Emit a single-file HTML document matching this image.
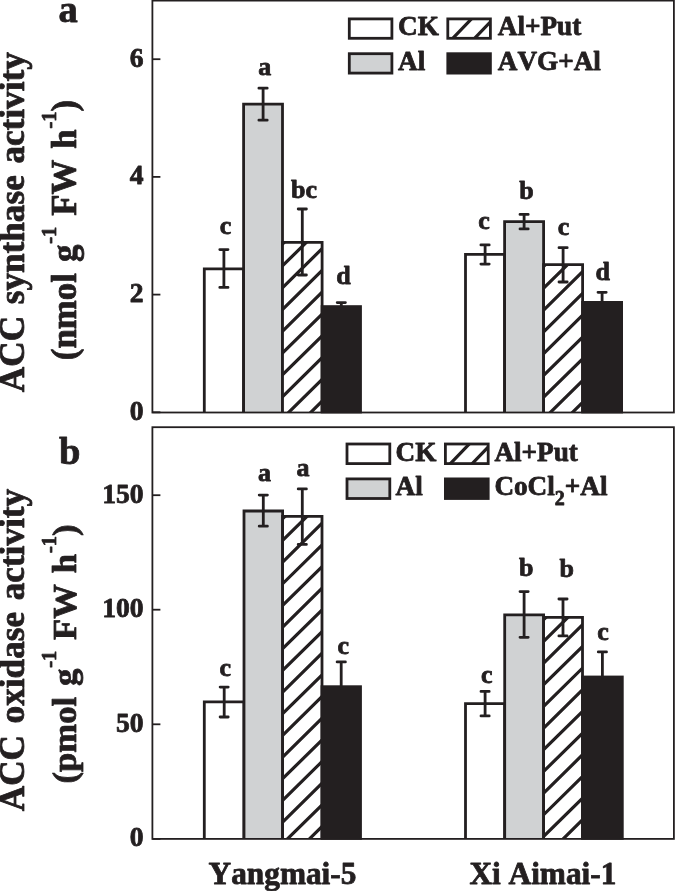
<!DOCTYPE html>
<html lang="en"><head><meta charset="utf-8"><title>ACC synthase and ACC oxidase activity</title>
<style>html,body{margin:0;padding:0;background:#fff;}body{width:675px;height:891px;overflow:hidden;}svg{display:block;}text{font-family:"Liberation Serif", "Times New Roman", Times, serif;font-weight:bold;fill:#231f20;font-kerning:none;stroke:#231f20;stroke-width:0.8px;stroke-linejoin:round;}</style></head><body>
<svg width="675" height="891" viewBox="0 0 675 891">
<rect width="675" height="891" fill="#fff"/>
<rect x="204.3" y="268.8" width="39.3" height="143.7" fill="#fff"/>
<path d="M204.3 412.5V268.8H243.6V412.5" fill="none" stroke="#231f20" stroke-width="2.8"/>
<path d="M223.9 249.6V287.4M219.8 249.6H228.0M219.8 287.4H228.0" stroke="#231f20" stroke-width="2.8" stroke-linecap="round" fill="none"/>
<text x="225.5" y="234.0" font-size="26.0" text-anchor="middle">c</text>
<rect x="243.6" y="104.1" width="38.9" height="308.4" fill="#d0d2d3"/>
<path d="M243.6 412.5V104.1H282.5V412.5" fill="none" stroke="#231f20" stroke-width="2.8"/>
<path d="M263.1 88.2V120.2M258.9 88.2H267.2M258.9 120.2H267.2" stroke="#231f20" stroke-width="2.8" stroke-linecap="round" fill="none"/>
<text x="264.8" y="74.6" font-size="26.0" text-anchor="middle">a</text>
<rect x="282.5" y="242.3" width="39.6" height="170.2" fill="#fff"/>
<clipPath id="c1"><rect x="282.5" y="242.3" width="39.6" height="170.2"/></clipPath>
<path clip-path="url(#c1)" d="M277.5 205.4L327.1 156.5M277.5 227.2L327.1 178.3M277.5 249.0L327.1 200.1M277.5 270.8L327.1 221.9M277.5 292.6L327.1 243.7M277.5 314.4L327.1 265.5M277.5 336.2L327.1 287.3M277.5 358.0L327.1 309.1M277.5 379.8L327.1 330.9M277.5 401.6L327.1 352.7M277.5 423.4L327.1 374.5M277.5 445.2L327.1 396.3M277.5 467.0L327.1 418.1M277.5 488.8L327.1 439.9M277.5 510.6L327.1 461.7" stroke="#231f20" stroke-width="3.2" fill="none"/>
<path d="M282.5 412.5V242.3H322.1V412.5" fill="none" stroke="#231f20" stroke-width="2.8"/>
<path d="M302.3 209.0V275.0M298.2 209.0H306.4M298.2 275.0H306.4" stroke="#231f20" stroke-width="2.8" stroke-linecap="round" fill="none"/>
<text x="304.0" y="197.6" font-size="26.0" text-anchor="middle">bc</text>
<rect x="320.7" y="305.2" width="41.2" height="108.2" fill="#231f20"/>
<path d="M341.3 302.6V306.6M337.2 302.6H345.4" stroke="#231f20" stroke-width="2.8" stroke-linecap="round" fill="none"/>
<text x="343.5" y="284.4" font-size="26.0" text-anchor="middle">d</text>
<rect x="465.5" y="254.4" width="39.1" height="158.1" fill="#fff"/>
<path d="M465.5 412.5V254.4H504.6V412.5" fill="none" stroke="#231f20" stroke-width="2.8"/>
<path d="M485.1 244.9V264.1M480.9 244.9H489.2M480.9 264.1H489.2" stroke="#231f20" stroke-width="2.8" stroke-linecap="round" fill="none"/>
<text x="484.1" y="228.9" font-size="26.0" text-anchor="middle">c</text>
<rect x="504.6" y="221.6" width="39.0" height="190.9" fill="#d0d2d3"/>
<path d="M504.6 412.5V221.6H543.6V412.5" fill="none" stroke="#231f20" stroke-width="2.8"/>
<path d="M524.1 214.4V228.9M520.0 214.4H528.2M520.0 228.9H528.2" stroke="#231f20" stroke-width="2.8" stroke-linecap="round" fill="none"/>
<text x="526.5" y="199.0" font-size="26.0" text-anchor="middle">b</text>
<rect x="543.6" y="264.7" width="39.0" height="147.8" fill="#fff"/>
<clipPath id="c2"><rect x="543.6" y="264.7" width="39.0" height="147.8"/></clipPath>
<path clip-path="url(#c2)" d="M538.6 227.8L587.6 179.5M538.6 249.6L587.6 201.3M538.6 271.4L587.6 223.1M538.6 293.2L587.6 244.9M538.6 315.0L587.6 266.7M538.6 336.8L587.6 288.5M538.6 358.6L587.6 310.3M538.6 380.4L587.6 332.1M538.6 402.2L587.6 353.9M538.6 424.0L587.6 375.7M538.6 445.8L587.6 397.5M538.6 467.6L587.6 419.3M538.6 489.4L587.6 441.1" stroke="#231f20" stroke-width="3.2" fill="none"/>
<path d="M543.6 412.5V264.7H582.6V412.5" fill="none" stroke="#231f20" stroke-width="2.8"/>
<path d="M563.1 247.7V282.0M559.0 247.7H567.2M559.0 282.0H567.2" stroke="#231f20" stroke-width="2.8" stroke-linecap="round" fill="none"/>
<text x="563.5" y="234.8" font-size="26.0" text-anchor="middle">c</text>
<rect x="581.2" y="301.0" width="41.8" height="112.4" fill="#231f20"/>
<path d="M602.1 292.3V302.4M598.0 292.3H606.2" stroke="#231f20" stroke-width="2.8" stroke-linecap="round" fill="none"/>
<text x="602.8" y="279.6" font-size="26.0" text-anchor="middle">d</text>
<rect x="152.4" y="0.6" width="521.5" height="411.9" fill="none" stroke="#231f20" stroke-width="1.8"/>
<path d="M152.4 412.3H160.4" stroke="#231f20" stroke-width="1.8"/>
<text x="143.6" y="419.8" font-size="27.6" text-anchor="end">0</text>
<path d="M152.4 294.6H160.4" stroke="#231f20" stroke-width="1.8"/>
<text x="143.6" y="302.1" font-size="27.6" text-anchor="end">2</text>
<path d="M152.4 176.9H160.4" stroke="#231f20" stroke-width="1.8"/>
<text x="143.6" y="184.4" font-size="27.6" text-anchor="end">4</text>
<path d="M152.4 59.2H160.4" stroke="#231f20" stroke-width="1.8"/>
<text x="143.6" y="66.7" font-size="27.6" text-anchor="end">6</text>
<rect x="349.3" y="18.9" width="42.6" height="19.4" fill="#fff"/>
<rect x="349.3" y="18.9" width="42.6" height="19.4" fill="none" stroke="#231f20" stroke-width="2.8"/>
<text x="398.0" y="35.4" font-size="27.2">CK</text>
<rect x="447.8" y="18.9" width="42.6" height="19.4" fill="#fff"/>
<clipPath id="c3"><rect x="447.8" y="18.9" width="42.6" height="19.4"/></clipPath>
<path clip-path="url(#c3)" d="M442.8 48.7L495.4 -6.0M442.8 71.4L495.4 16.7" stroke="#231f20" stroke-width="3.2" fill="none"/>
<rect x="447.8" y="18.9" width="42.6" height="19.4" fill="none" stroke="#231f20" stroke-width="2.8"/>
<text x="497.8" y="35.4" font-size="27.2">Al+Put</text>
<rect x="349.3" y="53.7" width="42.6" height="19.4" fill="#d0d2d3"/>
<rect x="349.3" y="53.7" width="42.6" height="19.4" fill="none" stroke="#231f20" stroke-width="2.8"/>
<text x="398.0" y="69.6" font-size="27.2">Al</text>
<rect x="446.4" y="52.3" width="45.4" height="22.2" fill="#231f20"/>
<text x="497.8" y="69.6" font-size="27.2">AVG+Al</text>
<text x="58.5" y="22.0" font-size="38.5">a</text>
<text transform="translate(23.5 222.2) rotate(-90)" font-size="35.2" word-spacing="2.85" text-anchor="middle">ACC synthase activity</text>
<text transform="translate(76.3 230.0) rotate(-90)" font-size="34.9" word-spacing="2.2" text-anchor="middle">(nmol g<tspan font-size="20.5" dy="-20" dx="0.8">-1</tspan><tspan dy="20"> FW h</tspan><tspan font-size="20.5" dy="-20" dx="0.8">-1</tspan><tspan dy="20">)</tspan></text>
<rect x="204.3" y="701.8" width="39.7" height="137.1" fill="#fff"/>
<path d="M204.3 838.9V701.8H244.0V838.9" fill="none" stroke="#231f20" stroke-width="2.8"/>
<path d="M224.2 687.1V717.0M220.1 687.1H228.2M220.1 717.0H228.2" stroke="#231f20" stroke-width="2.8" stroke-linecap="round" fill="none"/>
<text x="225.2" y="675.9" font-size="26.0" text-anchor="middle">c</text>
<rect x="244.0" y="511.0" width="38.6" height="327.9" fill="#d0d2d3"/>
<path d="M244.0 838.9V511.0H282.6V838.9" fill="none" stroke="#231f20" stroke-width="2.8"/>
<path d="M263.3 495.1V526.2M259.2 495.1H267.4M259.2 526.2H267.4" stroke="#231f20" stroke-width="2.8" stroke-linecap="round" fill="none"/>
<text x="264.5" y="480.7" font-size="26.0" text-anchor="middle">a</text>
<rect x="282.6" y="516.4" width="39.4" height="322.5" fill="#fff"/>
<clipPath id="c4"><rect x="282.6" y="516.4" width="39.4" height="322.5"/></clipPath>
<path clip-path="url(#c4)" d="M277.6 480.4L327.0 431.8M277.6 502.1L327.0 453.4M277.6 523.7L327.0 475.1M277.6 545.4L327.0 496.7M277.6 567.1L327.0 518.4M277.6 588.7L327.0 540.1M277.6 610.4L327.0 561.7M277.6 632.0L327.0 583.4M277.6 653.7L327.0 605.0M277.6 675.4L327.0 626.7M277.6 697.0L327.0 648.4M277.6 718.7L327.0 670.0M277.6 740.3L327.0 691.7M277.6 762.0L327.0 713.3M277.6 783.7L327.0 735.0M277.6 805.3L327.0 756.7M277.6 827.0L327.0 778.3M277.6 848.6L327.0 800.0M277.6 870.3L327.0 821.6M277.6 892.0L327.0 843.3M277.6 913.6L327.0 865.0M277.6 935.3L327.0 886.6" stroke="#231f20" stroke-width="3.2" fill="none"/>
<path d="M282.6 838.9V516.4H322.0V838.9" fill="none" stroke="#231f20" stroke-width="2.8"/>
<path d="M302.3 488.9V544.4M298.2 488.9H306.4M298.2 544.4H306.4" stroke="#231f20" stroke-width="2.8" stroke-linecap="round" fill="none"/>
<text x="302.9" y="476.0" font-size="26.0" text-anchor="middle">a</text>
<rect x="320.6" y="685.3" width="41.3" height="154.5" fill="#231f20"/>
<path d="M341.2 661.9V686.7M337.1 661.9H345.4" stroke="#231f20" stroke-width="2.8" stroke-linecap="round" fill="none"/>
<text x="343.2" y="654.4" font-size="26.0" text-anchor="middle">c</text>
<rect x="465.5" y="703.6" width="39.2" height="135.3" fill="#fff"/>
<path d="M465.5 838.9V703.6H504.7V838.9" fill="none" stroke="#231f20" stroke-width="2.8"/>
<path d="M485.1 691.4V715.9M481.0 691.4H489.2M481.0 715.9H489.2" stroke="#231f20" stroke-width="2.8" stroke-linecap="round" fill="none"/>
<text x="486.7" y="683.0" font-size="26.0" text-anchor="middle">c</text>
<rect x="504.7" y="614.8" width="38.9" height="224.1" fill="#d0d2d3"/>
<path d="M504.7 838.9V614.8H543.6V838.9" fill="none" stroke="#231f20" stroke-width="2.8"/>
<path d="M524.1 591.6V637.3M520.0 591.6H528.2M520.0 637.3H528.2" stroke="#231f20" stroke-width="2.8" stroke-linecap="round" fill="none"/>
<text x="526.3" y="576.3" font-size="26.0" text-anchor="middle">b</text>
<rect x="543.6" y="617.3" width="38.9" height="221.6" fill="#fff"/>
<clipPath id="c5"><rect x="543.6" y="617.3" width="38.9" height="221.6"/></clipPath>
<path clip-path="url(#c5)" d="M538.6 581.3L587.5 533.1M538.6 602.9L587.5 554.8M538.6 624.6L587.5 576.5M538.6 646.3L587.5 598.1M538.6 668.0L587.5 619.8M538.6 689.7L587.5 641.5M538.6 711.3L587.5 663.2M538.6 733.0L587.5 684.9M538.6 754.7L587.5 706.5M538.6 776.4L587.5 728.2M538.6 798.1L587.5 749.9M538.6 819.7L587.5 771.6M538.6 841.4L587.5 793.3M538.6 863.1L587.5 814.9M538.6 884.8L587.5 836.6M538.6 906.5L587.5 858.3M538.6 928.1L587.5 880.0" stroke="#231f20" stroke-width="3.2" fill="none"/>
<path d="M543.6 838.9V617.3H582.5V838.9" fill="none" stroke="#231f20" stroke-width="2.8"/>
<path d="M563.0 599.0V635.9M558.9 599.0H567.1M558.9 635.9H567.1" stroke="#231f20" stroke-width="2.8" stroke-linecap="round" fill="none"/>
<text x="566.7" y="577.0" font-size="26.0" text-anchor="middle">b</text>
<rect x="581.1" y="675.6" width="42.6" height="164.2" fill="#231f20"/>
<path d="M602.4 651.9V677.0M598.3 651.9H606.5" stroke="#231f20" stroke-width="2.8" stroke-linecap="round" fill="none"/>
<text x="603.0" y="639.6" font-size="26.0" text-anchor="middle">c</text>
<rect x="152.4" y="427.2" width="521.5" height="411.7" fill="none" stroke="#231f20" stroke-width="1.8"/>
<path d="M152.4 838.9H160.4" stroke="#231f20" stroke-width="1.8"/>
<text x="143.6" y="846.4" font-size="27.6" text-anchor="end">0</text>
<path d="M152.4 724.3H160.4" stroke="#231f20" stroke-width="1.8"/>
<text x="143.6" y="731.8" font-size="27.6" text-anchor="end">50</text>
<path d="M152.4 609.7H160.4" stroke="#231f20" stroke-width="1.8"/>
<text x="143.6" y="617.2" font-size="27.6" text-anchor="end">100</text>
<path d="M152.4 495.2H160.4" stroke="#231f20" stroke-width="1.8"/>
<text x="143.6" y="502.7" font-size="27.6" text-anchor="end">150</text>
<rect x="347.0" y="444.0" width="42.8" height="19.6" fill="#fff"/>
<rect x="347.0" y="444.0" width="42.8" height="19.6" fill="none" stroke="#231f20" stroke-width="2.8"/>
<text x="395.5" y="460.5" font-size="27.2">CK</text>
<rect x="445.4" y="444.0" width="42.8" height="19.6" fill="#fff"/>
<clipPath id="c6"><rect x="445.4" y="444.0" width="42.8" height="19.6"/></clipPath>
<path clip-path="url(#c6)" d="M440.4 474.0L493.2 419.1M440.4 496.7L493.2 441.8" stroke="#231f20" stroke-width="3.2" fill="none"/>
<rect x="445.4" y="444.0" width="42.8" height="19.6" fill="none" stroke="#231f20" stroke-width="2.8"/>
<text x="494.4" y="460.5" font-size="27.2">Al+Put</text>
<rect x="347.0" y="478.9" width="42.8" height="19.6" fill="#d0d2d3"/>
<rect x="347.0" y="478.9" width="42.8" height="19.6" fill="none" stroke="#231f20" stroke-width="2.8"/>
<text x="395.5" y="494.6" font-size="27.2">Al</text>
<rect x="444.0" y="477.5" width="45.6" height="22.4" fill="#231f20"/>
<text x="494.4" y="494.6" font-size="27.2">CoCl<tspan font-size="20" dy="10">2</tspan><tspan dy="-10">+Al</tspan></text>
<text x="59.0" y="464.0" font-size="38.5">b</text>
<text transform="translate(23.5 650.1) rotate(-90)" font-size="35.2" word-spacing="2.85" text-anchor="middle">ACC oxidase activity</text>
<text transform="translate(76.3 654.0) rotate(-90)" font-size="34.7" word-spacing="2.2" text-anchor="middle">(pmol g<tspan font-size="20.5" dy="-20" dx="0.8">-1</tspan><tspan dy="20"> FW h</tspan><tspan font-size="20.5" dy="-20" dx="0.8">-1</tspan><tspan dy="20">)</tspan></text>
<text x="282.5" y="884" font-size="31.3" text-anchor="middle">Yangmai-5</text>
<text x="542.9" y="884" font-size="31.3" text-anchor="middle">Xi Aimai-1</text>
</svg></body></html>
